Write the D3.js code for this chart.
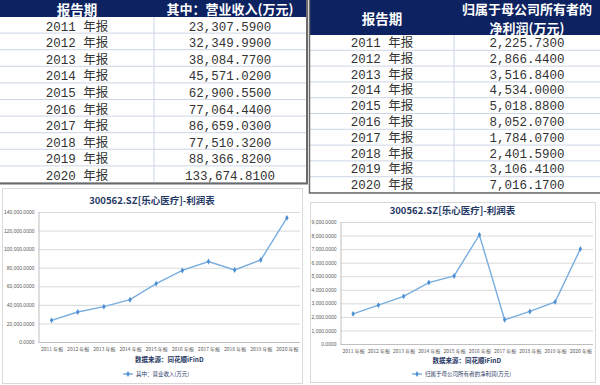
<!DOCTYPE html>
<html>
<head>
<meta charset="utf-8">
<script src="https://cdn.jsdelivr.net/npm/d3@7"></script>
<style>
  html, body { margin: 0; padding: 0; background: #fff; }
  svg { display: block; }
  text { white-space: pre; }
</style>
</head>
<body>
<svg id="chart" width="600" height="385"></svg>
<script>
const periods = ['2011 年报', '2012 年报', '2013 年报', '2014 年报', '2015 年报',
  '2016 年报', '2017 年报', '2018 年报', '2019 年报', '2020 年报'];
const revenue = [23307.59, 32349.99, 38084.77, 45571.02, 62900.55,
  77064.44, 86659.03, 77510.32, 88366.82, 133674.81];
const netProfit = [2225.73, 2866.44, 3516.84, 4534.00, 5018.88,
  8052.07, 1784.07, 2401.59, 3106.41, 7016.17];
const revenueTicks = [0, 20000, 40000, 60000, 80000, 100000, 120000, 140000];
const profitTicks = [0, 1000, 2000, 3000, 4000, 5000, 6000, 7000, 8000, 9000];
const chartTitle = '300562.SZ[乐心医疗]-利润表';
const sourceText = '数据来源：同花顺iFinD';
const revenueName = '其中：营业收入(万元)';
const profitName = '归属于母公司所有者的净利润(万元)';

const svg = d3.select('#chart');
const navy = '#0d2260';
const cjk = '"Noto Sans CJK SC", "Noto Sans", sans-serif';
const mono = '"Liberation Mono", "DejaVu Sans Mono", "Noto Sans CJK SC", monospace';
const fmtCell = d3.format(',.4f');

// ---------- tables ----------
function drawTable(opt) {
  const g = svg.append('g');
  const rowH = (opt.bottom - opt.headTop) / periods.length;

  g.append('rect')
    .attr('x', opt.x0).attr('y', 0)
    .attr('width', opt.x1 - opt.x0).attr('height', opt.headTop)
    .attr('fill', navy);

  const rows = g.selectAll('.row')
    .data(periods)
    .enter()
    .append('g');

  rows.append('line')
    .attr('x1', opt.x0).attr('x2', opt.x1)
    .attr('y1', (d, i) => opt.headTop + rowH * (i + 1) - 0.5)
    .attr('y2', (d, i) => opt.headTop + rowH * (i + 1) - 0.5)
    .attr('stroke', '#cdd6e6');

  rows.append('text')
    .attr('x', opt.c1)
    .attr('y', (d, i) => opt.headTop + rowH * i + opt.textOff)
    .attr('text-anchor', 'middle')
    .attr('dominant-baseline', 'central')
    .attr('font-family', mono)
    .attr('font-size', 12.5)
    .attr('fill', '#333')
    .text(d => d);

  rows.append('text')
    .attr('x', opt.c2)
    .attr('y', (d, i) => opt.headTop + rowH * i + opt.textOff)
    .attr('text-anchor', 'middle')
    .attr('dominant-baseline', 'central')
    .attr('font-family', mono)
    .attr('font-size', 12.5)
    .attr('fill', '#333')
    .text((d, i) => fmtCell(opt.values[i]));

  g.append('line')
    .attr('x1', opt.mid).attr('x2', opt.mid)
    .attr('y1', opt.headTop).attr('y2', opt.bottom)
    .attr('stroke', '#cdd6e6');

  g.append('text')
    .attr('x', opt.c1).attr('y', opt.headTop / 2)
    .attr('text-anchor', 'middle').attr('dominant-baseline', 'central')
    .attr('font-family', cjk).attr('font-weight', 'bold').attr('font-size', 13.5)
    .attr('fill', '#fff').text('报告期');

  opt.head.forEach((t, i) => {
    g.append('text')
      .attr('x', opt.c2)
      .attr('y', opt.head.length === 1 ? opt.headTop / 2 : 8 + i * 19)
      .attr('text-anchor', 'middle').attr('dominant-baseline', 'central')
      .attr('font-family', cjk).attr('font-weight', 'bold').attr('font-size', 13)
      .attr('fill', '#fff').text(t);
  });

  return g;
}

const left = drawTable({
  x0: 0, x1: 307, mid: 154, c1: 77, c2: 230,
  headTop: 17, bottom: 183, textOff: 10.5,
  values: revenue, head: [revenueName]
});
left.append('path')
  .attr('d', 'M307,0V183.5H0')
  .attr('fill', 'none').attr('stroke', '#6b6b6b').attr('stroke-width', 2);

const right = drawTable({
  x0: 310, x1: 600, mid: 454, c1: 382, c2: 527,
  headTop: 35, bottom: 193, textOff: 9,
  values: netProfit, head: ['归属于母公司所有者的', '净利润(万元)']
});
right.append('path')
  .attr('d', 'M309.5,0V193H600')
  .attr('fill', 'none').attr('stroke', '#6b6b6b').attr('stroke-width', 1.5);

// ---------- charts ----------
function drawChart(opt) {
  const g = svg.append('g');

  g.append('rect')
    .attr('x', opt.frame[0] + 0.5).attr('y', opt.frame[1] + 0.5)
    .attr('width', opt.frame[2] - opt.frame[0]).attr('height', opt.frame[3] - opt.frame[1])
    .attr('fill', '#fff').attr('stroke', '#d9d9d9');

  const x = d3.scalePoint()
    .domain(periods)
    .range([opt.left, opt.right])
    .padding(0.5);

  const y = d3.scaleLinear()
    .domain([0, d3.max(opt.ticks)])
    .range([opt.bottom, opt.top]);

  g.append('g')
    .attr('transform', `translate(${opt.left},0)`)
    .call(d3.axisLeft(y).tickValues(opt.ticks).tickSize(-(opt.right - opt.left)).tickPadding(4).tickFormat(fmtCell))
    .call(a => a.select('.domain').remove())
    .call(a => a.selectAll('line').attr('stroke', '#d9d9d9'))
    .call(a => a.selectAll('text').attr('font-family', '"Liberation Sans", Arial, sans-serif').attr('font-size', 5).attr('fill', '#595959'));

  g.append('line')
    .attr('x1', opt.left + 0.5).attr('x2', opt.left + 0.5)
    .attr('y1', opt.top).attr('y2', opt.bottom)
    .attr('stroke', '#bfbfbf');
  g.append('line')
    .attr('x1', opt.left).attr('x2', opt.right)
    .attr('y1', opt.bottom + 0.5).attr('y2', opt.bottom + 0.5)
    .attr('stroke', '#bfbfbf');

  g.append('g')
    .attr('transform', `translate(0,${opt.bottom})`)
    .call(d3.axisBottom(x).tickSize(0).tickPadding(5))
    .call(a => a.select('.domain').remove())
    .call(a => a.selectAll('text').attr('font-family', cjk).attr('font-size', 5).attr('fill', '#595959'));

  g.append('text')
    .attr('x', (opt.frame[0] + opt.frame[2]) / 2).attr('y', opt.titleY)
    .attr('text-anchor', 'middle').attr('dominant-baseline', 'central')
    .attr('font-family', cjk).attr('font-weight', 'bold').attr('font-size', 9.5)
    .attr('fill', '#1f3864').text(chartTitle);

  g.append('text')
    .attr('x', (opt.left + opt.right) / 2).attr('y', opt.sourceY)
    .attr('text-anchor', 'middle').attr('dominant-baseline', 'central')
    .attr('font-family', cjk).attr('font-weight', 'bold').attr('font-size', 6.5)
    .attr('fill', '#1f3864').text(sourceText);

  const line = d3.line()
    .x((d, i) => x(periods[i]))
    .y(d => y(d));

  g.append('path')
    .datum(opt.values)
    .attr('d', line)
    .attr('fill', 'none')
    .attr('stroke', '#79addf')
    .attr('stroke-width', 1.4);

  g.selectAll('.pt')
    .data(opt.values)
    .enter()
    .append('path')
    .attr('d', d3.symbol(d3.symbolDiamond, 10))
    .attr('transform', (d, i) => `translate(${x(periods[i])},${y(d)})`)
    .attr('fill', '#4a8fd4');

  const lg = g.append('g').attr('transform', `translate(${opt.legendX},${opt.legendY})`);
  lg.append('line').attr('x1', 0).attr('x2', 10).attr('stroke', '#79addf').attr('stroke-width', 1.4);
  lg.append('path').attr('d', d3.symbol(d3.symbolDiamond, 10)).attr('transform', 'translate(5,0)').attr('fill', '#4a8fd4');
  lg.append('text')
    .attr('x', 13).attr('dominant-baseline', 'central')
    .attr('font-family', cjk).attr('font-size', 5.5).attr('fill', '#1f3864')
    .text(opt.name);
}

drawChart({
  frame: [2, 188, 302, 383],
  left: 38.5, right: 300, top: 212, bottom: 342,
  ticks: revenueTicks, values: revenue, name: revenueName,
  titleY: 200, sourceY: 359, legendX: 123, legendY: 374
});

drawChart({
  frame: [310, 202, 595, 382],
  left: 340.5, right: 593, top: 222, bottom: 344,
  ticks: profitTicks, values: netProfit, name: profitName,
  titleY: 210, sourceY: 360, legendX: 412, legendY: 374
});
</script>
</body>
</html>
